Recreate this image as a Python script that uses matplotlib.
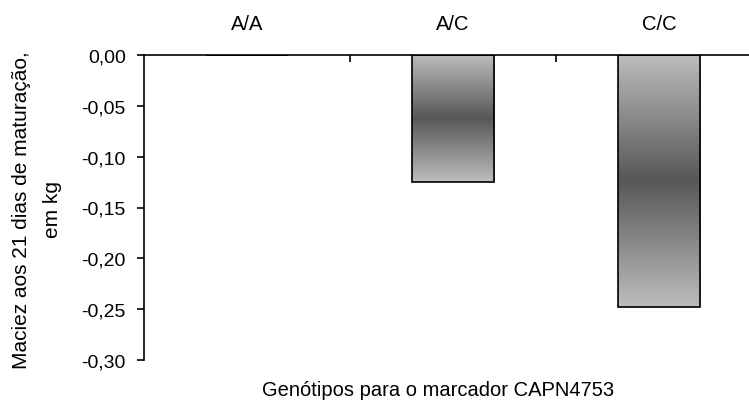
import numpy as np
import matplotlib
matplotlib.use("Agg")
import matplotlib.pyplot as plt
from matplotlib.colors import LinearSegmentedColormap

# data
genotypes = ["A/A", "A/C", "C/C"]
maciez = [0.0, -0.125, -0.248]
yticks = [0.0, -0.05, -0.10, -0.15, -0.20, -0.25, -0.30]

plt.rcParams['font.family'] = ['Liberation Sans', 'DejaVu Sans']

fig = plt.figure(figsize=(7.49, 4.14), dpi=100)
ax = fig.add_axes([144/749, 1-361/414, (762-144)/749, (361-56)/414])

x = np.arange(len(genotypes))
bar_w = 0.4

# grey gradient: light at both ends, dark in the middle
grad_cmap = LinearSegmentedColormap.from_list("barg", ["#bdbdbd", "#575757", "#bdbdbd"])
grad = np.linspace(0, 1, 256).reshape(-1, 1)

for xi, val in zip(x, maciez):
    if val != 0:
        ax.imshow(grad, cmap=grad_cmap, aspect='auto', interpolation='bilinear',
                  extent=(xi - bar_w/2, xi + bar_w/2, val, 0), zorder=2)
bars = ax.bar(x, maciez, width=bar_w, facecolor='none', edgecolor='black',
              linewidth=1.2, zorder=3)

ax.set_xlim(-0.5, 2.5)
ax.set_ylim(-0.30, 0.0)

# spines like the original: left and top only
ax.spines['bottom'].set_visible(False)
ax.spines['right'].set_visible(False)
ax.spines['top'].set_linewidth(1.2)
ax.spines['left'].set_linewidth(1.2)
ax.spines['top'].set_zorder(4)

ax.set_yticks(yticks)
ax.set_yticklabels([f"{v:.2f}".replace('.', ',') for v in yticks], fontsize=14)
ax.tick_params(axis='y', direction='out', length=5, width=1.2, pad=8)

ax.xaxis.tick_top()
ax.set_xticks(x)
ax.set_xticklabels(genotypes, fontsize=14.5)
ax.set_xticks([0.5, 1.5], minor=True)
ax.tick_params(axis='x', which='major', length=0, pad=16)
ax.tick_params(axis='x', which='minor', direction='in', length=5, width=1.2, top=True, bottom=False)

fig.text(37/749, 1-210/414, "Maciez aos 21 dias de maturação,\nem kg", rotation=90,
         ha='center', va='center', fontsize=15, linespacing=1.75)
fig.text(438/749, 1-391/414, "Genótipos para o marcador CAPN4753", ha='center', va='center',
         fontsize=14.5)

plt.savefig("out.png", dpi=100)
